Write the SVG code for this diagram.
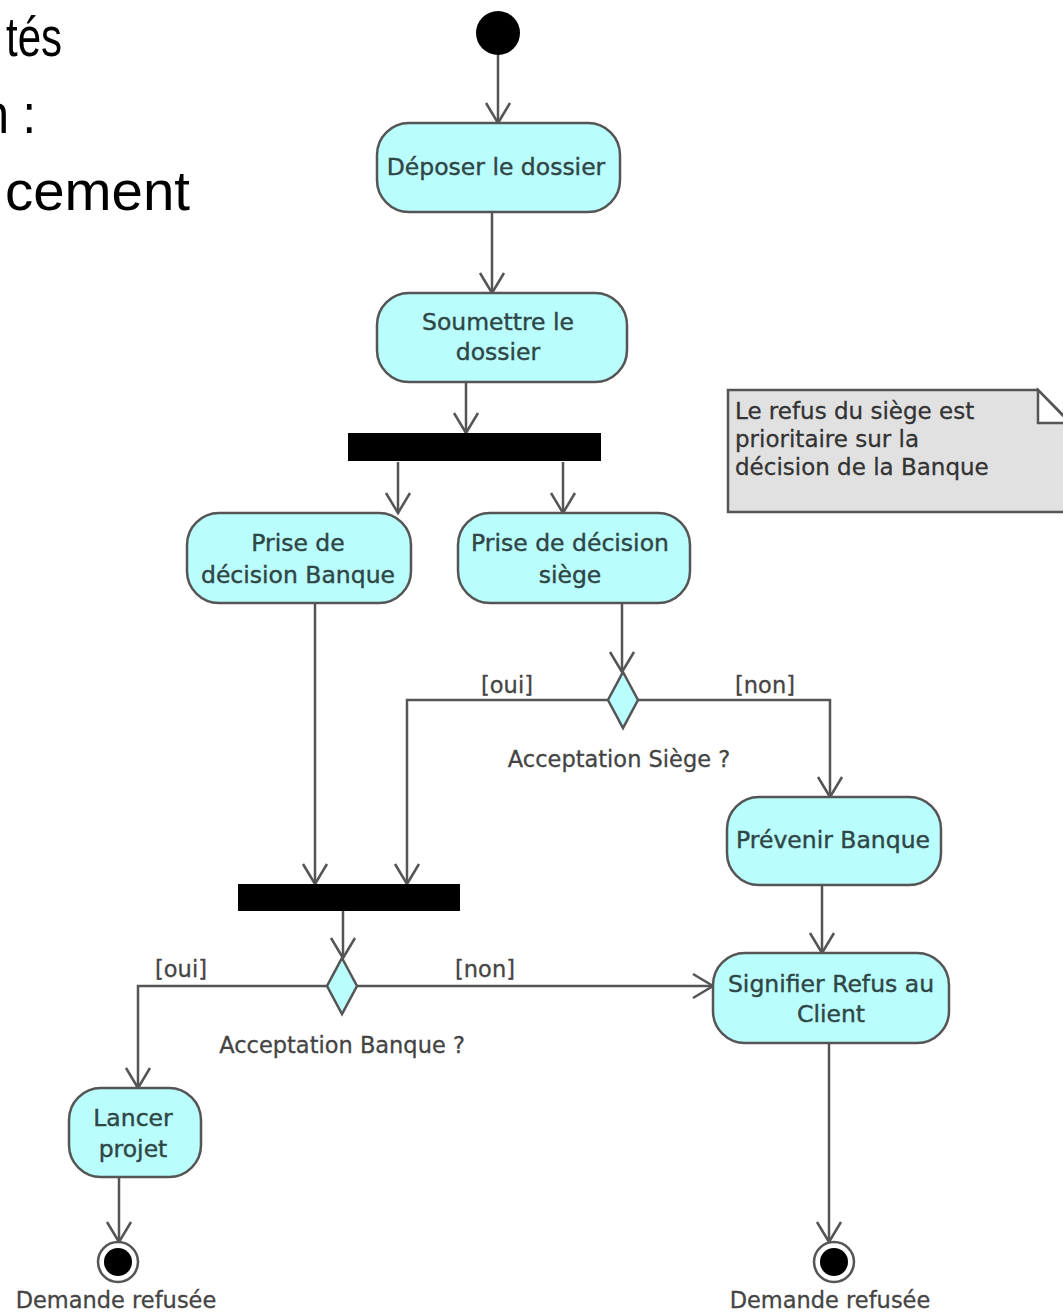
<svg xmlns="http://www.w3.org/2000/svg" width="1063" height="1313" viewBox="0 0 1063 1313">
<defs>
<marker id="arr" markerUnits="userSpaceOnUse" markerWidth="30" markerHeight="30" viewBox="-25 -15 30 30" refX="0" refY="0" orient="auto" overflow="visible">
<path d="M-20,-12 L0,0 L-20,12" fill="none" stroke="#555" stroke-width="2.5"/>
</marker>
</defs>
<style>
.act{fill:#bafdfd;stroke:#555;stroke-width:2.5}
.t{font-family:"DejaVu Sans",sans-serif;font-size:23.5px;fill:#2f4646;stroke:#2f4646;stroke-width:0.4;text-anchor:middle}
.lbl{font-family:"DejaVu Sans",sans-serif;font-size:22.5px;fill:#444;stroke:#444;stroke-width:0.3;text-anchor:middle}
.note{font-family:"DejaVu Sans",sans-serif;font-size:23px;fill:#333;stroke:#333;stroke-width:0.3}
.big{font-family:"Liberation Sans",sans-serif;font-size:56px;fill:#000}
.c{fill:none;stroke:#555;stroke-width:2.5;marker-end:url(#arr)}
.bar{fill:#000}
.dec{fill:#bafdfd;stroke:#555;stroke-width:2.5}
</style>
<rect width="1063" height="1313" fill="#fff"/>
<g id="slide-text">
<text class="big" x="6" y="56" textLength="56" lengthAdjust="spacingAndGlyphs">tés</text>
<text class="big" x="-18" y="133" textLength="54" lengthAdjust="spacingAndGlyphs">n :</text>
<text class="big" x="5" y="210" textLength="185" lengthAdjust="spacingAndGlyphs">cement</text>
</g>
<g id="connectors">
<path class="c" d="M498,55 V123"/>
<path class="c" d="M492,212 V293"/>
<path class="c" d="M466,382 V433"/>
<path class="c" d="M398,462 V513"/>
<path class="c" d="M563,462 V513"/>
<path class="c" d="M315,603 V884"/>
<path class="c" d="M622,603 V672"/>
<path class="c" d="M608,700 H407 V884"/>
<path class="c" d="M638,700 H830 V797"/>
<path class="c" d="M822,885 V953"/>
<path class="c" d="M343,911 V958"/>
<path class="c" d="M327,986 H138 V1088"/>
<path class="c" d="M357,986 H713"/>
<path class="c" d="M829,1043 V1242"/>
<path class="c" d="M119,1177 V1242"/>
<text class="lbl" x="507" y="693">[oui]</text>
<text class="lbl" x="765" y="693">[non]</text>
<text class="lbl" x="181" y="977">[oui]</text>
<text class="lbl" x="485" y="977">[non]</text>
</g>
<g id="start"><circle cx="498" cy="33" r="22" fill="#000"/></g>
<g id="deposer">
<rect class="act" x="377" y="123" width="243" height="89" rx="32"/>
<text class="t" x="496" y="175">Déposer le dossier</text>
</g>
<g id="soumettre">
<rect class="act" x="377" y="293" width="250" height="89" rx="32"/>
<text class="t" x="498" y="330">Soumettre le</text>
<text class="t" x="498" y="360">dossier</text>
</g>
<g id="fork"><rect class="bar" x="348" y="433" width="253" height="28"/></g>
<g id="decision-banque">
<rect class="act" x="187" y="513" width="224" height="90" rx="32"/>
<text class="t" x="298" y="551">Prise de</text>
<text class="t" x="298" y="583">décision Banque</text>
</g>
<g id="decision-siege">
<rect class="act" x="458" y="513" width="232" height="90" rx="32"/>
<text class="t" x="570" y="551">Prise de décision</text>
<text class="t" x="570" y="583">siège</text>
</g>
<g id="note">
<path d="M728,390 H1038 L1070,422 V512 H728 Z" fill="#e1e1e1" stroke="#555" stroke-width="2.5"/>
<path d="M1038,390 V423 H1070 Z" fill="#fff" stroke="#555" stroke-width="2.5"/>
<text class="note" x="735" y="419">Le refus du siège est</text>
<text class="note" x="735" y="447">prioritaire sur la</text>
<text class="note" x="735" y="475">décision de la Banque</text>
</g>
<g id="acceptation-siege">
<polygon class="dec" points="623,672 638,700 623,728 608,700"/>
<text class="lbl" x="619" y="767">Acceptation Siège ?</text>
</g>
<g id="prevenir">
<rect class="act" x="727" y="797" width="214" height="88" rx="32"/>
<text class="t" x="833" y="848">Prévenir Banque</text>
</g>
<g id="join"><rect class="bar" x="238" y="884" width="222" height="27"/></g>
<g id="acceptation-banque">
<polygon class="dec" points="342,958 357,986 342,1014 327,986"/>
<text class="lbl" x="342" y="1053">Acceptation Banque ?</text>
</g>
<g id="signifier">
<rect class="act" x="713" y="953" width="236" height="90" rx="32"/>
<text class="t" x="831" y="992">Signifier Refus au</text>
<text class="t" x="831" y="1022">Client</text>
</g>
<g id="lancer">
<rect class="act" x="69" y="1088" width="132" height="89" rx="32"/>
<text class="t" x="133" y="1126">Lancer</text>
<text class="t" x="133" y="1157">projet</text>
</g>
<g id="final-left">
<circle cx="118" cy="1262" r="20" fill="#fff" stroke="#555" stroke-width="2.5"/>
<circle cx="118" cy="1262" r="14" fill="#000"/>
<text class="lbl" x="116" y="1308">Demande refusée</text>
</g>
<g id="final-right">
<circle cx="834" cy="1262" r="20" fill="#fff" stroke="#555" stroke-width="2.5"/>
<circle cx="834" cy="1262" r="14" fill="#000"/>
<text class="lbl" x="830" y="1308">Demande refusée</text>
</g>
</svg>
